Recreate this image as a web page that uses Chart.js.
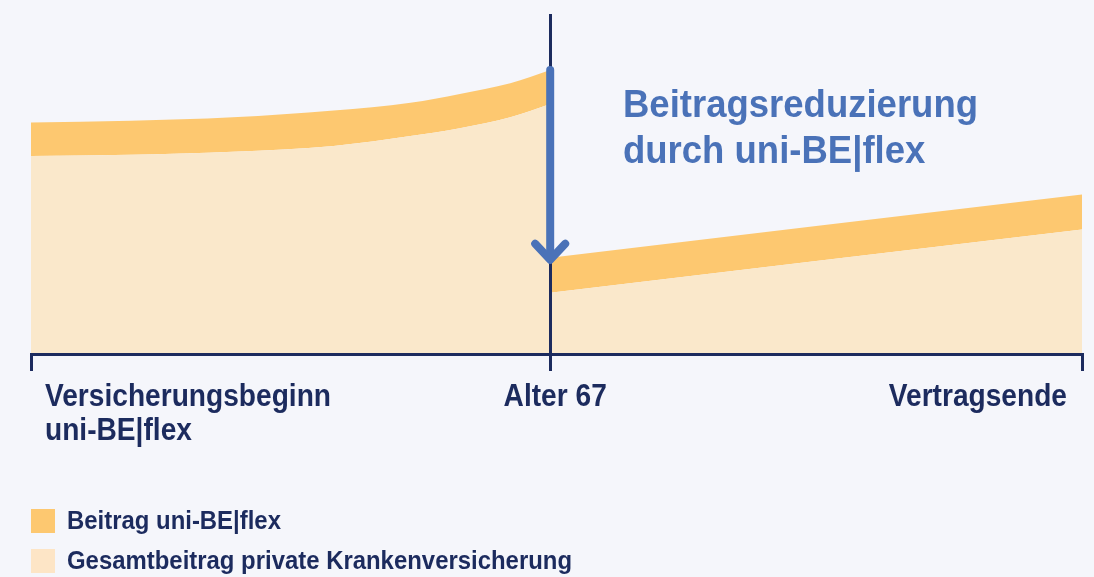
<!DOCTYPE html>
<html>
<head>
<meta charset="utf-8">
<script src="https://cdn.jsdelivr.net/npm/chart.js@4/dist/chart.umd.min.js"></script>
<style>
    html, body { margin: 0; padding: 0; background: #f5f6fb; }
    #chart { display: block; }
</style>
</head>
<body>
<canvas id="chart" width="1094" height="577"></canvas>
<script>
// ============================================
// DATA (x: 0 = Versicherungsbeginn, 100 = Vertragsende)
// ============================================
const tickValues = [0, 49.4, 100];
const tickLabels = [['Versicherungsbeginn', 'uni-BE|flex'], ['Alter 67'], ['Vertragsende']];

// before age 67
const leftX      = [0, 9.5, 19.2, 28.8, 36.1, 40.8, 45.6, 49.4];
const leftTotal  = [58.2, 58.6, 59.5, 61.2, 64.1, 66.4, 69.6, 73.5];   // Gesamtbeitrag (top of light area)
const leftFlex   = [68.1, 68.6, 69.6, 71.6, 73.9, 76.5, 79.6, 83.5];   // top of uni-BE|flex band

// after age 67
const rightX     = [49.4, 100];
const rightTotal = [18.0, 36.6];
const rightFlex  = [28.3, 46.9];

const legendLabels = ['Beitrag uni-BE|flex', 'Gesamtbeitrag private Krankenversicherung'];
const noteLines = ['Beitragsreduzierung', 'durch uni-BE|flex'];

// ============================================
// STYLE
// ============================================
const NAVY = '#1c2b5e';
const BLUE = '#4a72b8';
const ORANGE = '#fdc870';
const LIGHT = '#fae8cb';
const LIGHT_LEGEND = '#fde5c6';
const FONT = "'Liberation Sans', Arial, sans-serif";

const toPoints = (xs, ys) => xs.map((x, i) => ({ x: x, y: ys[i] }));

function area(xs, ys, color, fill) {
    return {
        data: toPoints(xs, ys),
        backgroundColor: color,
        borderWidth: 0,
        pointRadius: 0,
        fill: fill,
        cubicInterpolationMode: 'monotone'
    };
}

// no narrow font installed: squeeze the text horizontally so a sample string gets its width
function squeeze(ctx, sample, width) {
    return width / ctx.measureText(sample).width;
}

function textAt(ctx, text, x, y, align, sx) {
    ctx.save();
    ctx.translate(x, y);
    ctx.scale(sx, 1);
    ctx.textAlign = align;
    ctx.fillText(text, 0, 0);
    ctx.restore();
}

// arrow, labels, note and legend
const overlay = {
    id: 'overlay',
    afterDraw(chart) {
        const ctx = chart.ctx;
        const x = chart.scales.x;
        const y = chart.scales.y;
        const midPx = x.getPixelForValue(tickValues[1]);

        // arrow
        const top = y.getPixelForValue(leftFlex[leftFlex.length - 1]);
        const tip = y.getPixelForValue(rightFlex[0]) + 2;
        ctx.save();
        ctx.strokeStyle = BLUE;
        ctx.lineWidth = 8;
        ctx.lineCap = 'round';
        ctx.lineJoin = 'round';
        ctx.beginPath();
        ctx.moveTo(midPx, top);
        ctx.lineTo(midPx, tip - 3);
        ctx.stroke();
        ctx.beginPath();
        ctx.moveTo(midPx - 15, tip - 16);
        ctx.lineTo(midPx, tip);
        ctx.lineTo(midPx + 15, tip - 16);
        ctx.stroke();
        ctx.restore();

        ctx.save();
        ctx.textBaseline = 'alphabetic';

        // tick labels
        ctx.fillStyle = NAVY;
        ctx.font = 'bold 32px ' + FONT;
        let sx = squeeze(ctx, 'Versicherungsbeginn', 286);
        const aligns = ['left', 'center', 'right'];
        const shifts = [14, 5, -15];
        tickValues.forEach((v, i) => {
            tickLabels[i].forEach((line, j) => {
                textAt(ctx, line, x.getPixelForValue(v) + shifts[i], 406 + j * 34, aligns[i], sx);
            });
        });

        // note
        ctx.fillStyle = BLUE;
        ctx.font = 'bold 38px ' + FONT;
        sx = squeeze(ctx, noteLines[0], 355);
        noteLines.forEach((line, j) => textAt(ctx, line, 623, 117 + j * 46, 'left', sx));

        // legend
        const swatches = [ORANGE, LIGHT_LEGEND];
        ctx.font = 'bold 26px ' + FONT;
        sx = squeeze(ctx, legendLabels[1], 505);
        legendLabels.forEach((label, j) => {
            ctx.fillStyle = swatches[j];
            ctx.fillRect(31, 509 + j * 40, 24, 24);
            ctx.fillStyle = NAVY;
            textAt(ctx, label, 67, 529 + j * 40, 'left', sx);
        });
        ctx.restore();
    }
};

document.addEventListener('DOMContentLoaded', () => {
    const ctx = document.getElementById('chart').getContext('2d');
    new Chart(ctx, {
        type: 'line',
        data: {
            datasets: [
                area(leftX, leftTotal, LIGHT, 'origin'),
                area(leftX, leftFlex, ORANGE, '-1'),
                area(rightX, rightTotal, LIGHT, 'origin'),
                area(rightX, rightFlex, ORANGE, '-1')
            ]
        },
        options: {
            responsive: false,
            animation: false,
            layout: { padding: { left: 31, right: 12, top: 14, bottom: 0 } },
            plugins: { legend: { display: false }, tooltip: { enabled: false } },
            scales: {
                x: {
                    type: 'linear',
                    min: 0,
                    max: 100,
                    afterBuildTicks: (scale) => { scale.ticks = tickValues.map(v => ({ value: v })); },
                    afterFit: (scale) => { scale.height = 223; },
                    ticks: { display: false },
                    border: { display: true, color: NAVY, width: 3, z: 1 },
                    grid: {
                        z: 1,
                        drawOnChartArea: true,
                        drawTicks: true,
                        tickLength: 17,
                        lineWidth: 3,
                        tickWidth: 3,
                        tickColor: NAVY,
                        color: (c) => (c.tick && c.tick.value === tickValues[1]) ? NAVY : 'rgba(0,0,0,0)'
                    }
                },
                y: { display: false, min: 0, max: 100 }
            }
        },
        plugins: [overlay]
    });
});
</script>
</body>
</html>
